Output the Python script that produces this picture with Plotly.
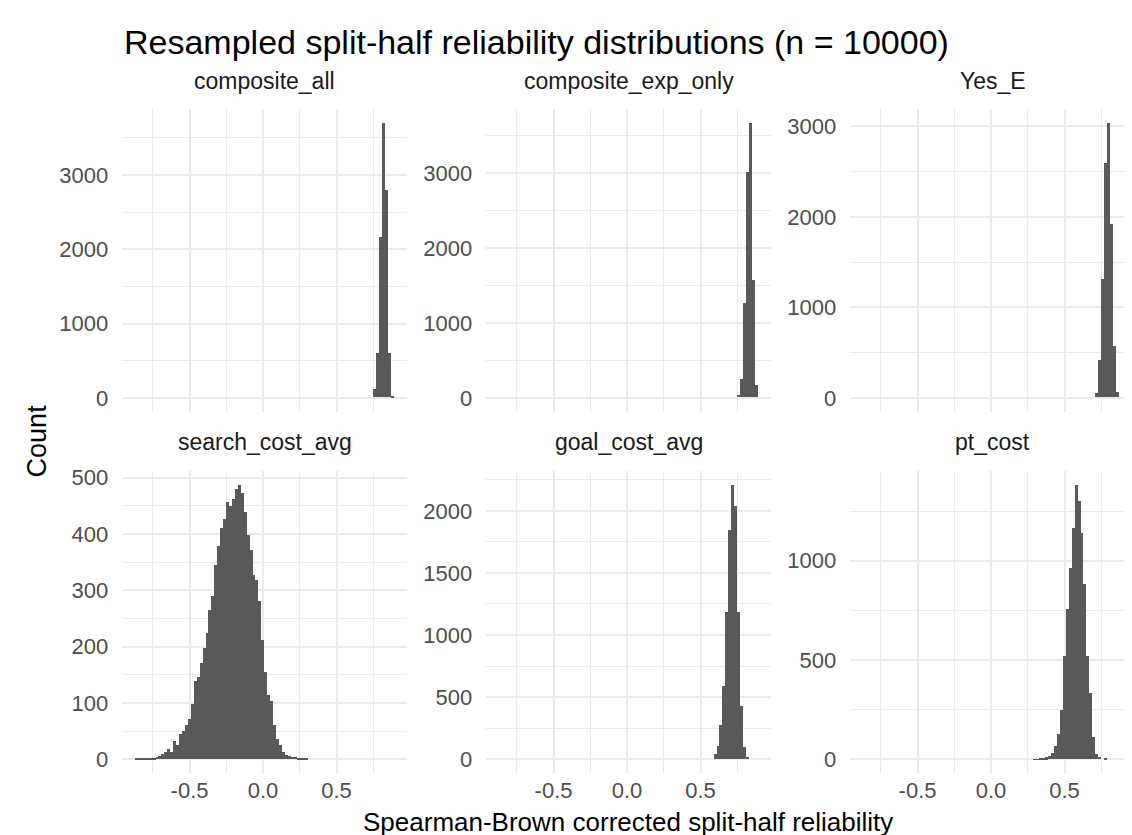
import plotly.graph_objects as go

# ---------------- data ----------------
BIN_WIDTH = 0.02

panel_names = ["composite_all", "composite_exp_only", "Yes_E",
               "search_cost_avg", "goal_cost_avg", "pt_cost"]

# left edge of first bin for each panel
composite_all_start = 0.75
composite_exp_only_start = 0.75
yes_e_start = 0.71
search_cost_start = -0.87
goal_cost_start = 0.59
pt_cost_start = 0.29

composite_all_counts = [117, 600, 2156, 3699, 2797, 600, 14]
composite_exp_only_counts = [30, 250, 1265, 3008, 3666, 1565, 161]
yes_e_counts = [50, 409, 1307, 2587, 3036, 1918, 570, 55]
search_cost_counts = [1, 1, 1, 1, 2, 2, 3, 5, 7, 9,
                      14, 18, 13, 32, 26, 45, 50, 62, 72, 98,
                      140, 146, 172, 198, 225, 265, 290, 345, 380, 412,
                      428, 458, 450, 462, 480, 488, 474, 440, 398, 372,
                      328, 318, 282, 212, 155, 114, 104, 62, 36, 26,
                      13, 8, 7, 5, 4, 3, 2, 1, 1]
goal_cost_counts = [45, 110, 277, 592, 1191, 1850, 2212, 2044, 1191, 432, 99, 19]
pt_cost_counts = [2, 2, 3, 5, 10, 18, 35, 70, 130, 250,
                  520, 756, 965, 1166, 1384, 1300, 1141, 882, 522, 335,
                  112, 28, 12, 0, 3]

panel_starts = [composite_all_start, composite_exp_only_start, yes_e_start,
                search_cost_start, goal_cost_start, pt_cost_start]
panel_counts = [composite_all_counts, composite_exp_only_counts, yes_e_counts,
                search_cost_counts, goal_cost_counts, pt_cost_counts]
y_dticks = [1000, 1000, 1000, 100, 500, 500]

x_tickvals = [-0.5, 0.0, 0.5]
x_ticktext = ["-0.5", "0.0", "0.5"]
x_minorvals = [-0.75, -0.25, 0.25, 0.75]
X_RANGE = [-0.958, 0.978]

TITLE = "Resampled split-half reliability distributions (n = 10000)"
X_TITLE = "Spearman-Brown corrected split-half reliability"
Y_TITLE = "Count"

# ---------------- layout geometry (pixels) ----------------
W, H = 1132, 835
col_px = [(114.2, 398.8), (478.2, 762.8), (842.2, 1126.8)]
row_px = [(97.0, 401.0), (460.5, 764.5)]

FONT = "Liberation Sans, Arial, Helvetica, sans-serif"
BAR = "#595959"
GRID = "#EBEBEB"
TICK_SIZE = 22

fig = go.Figure()
layout = dict(
    width=W, height=H,
    margin=dict(l=0, r=0, t=0, b=0),
    paper_bgcolor="white", plot_bgcolor="white",
    showlegend=False, bargap=0,
    font=dict(family=FONT, color="#4D4D4D"),
)
annotations = []

for i, (name, start, counts) in enumerate(zip(panel_names, panel_starts, panel_counts)):
    r, c = divmod(i, 3)
    ax = i + 1
    xs = [start + (k + 0.5) * BIN_WIDTH for k in range(len(counts))]
    fig.add_trace(go.Bar(
        x=xs, y=counts, width=BIN_WIDTH,
        marker=dict(color=BAR, line=dict(width=0)),
        xaxis=f"x{ax}", yaxis=f"y{ax}", hoverinfo="skip",
    ))
    x0, x1 = col_px[c]
    yt, yb = row_px[r]
    ymax = max(counts)
    layout[f"xaxis{ax}"] = dict(
        domain=[x0 / W, x1 / W], anchor=f"y{ax}",
        range=X_RANGE, fixedrange=True,
        tickmode="array", tickvals=x_tickvals, ticktext=x_ticktext,
        showticklabels=(r == 1), ticks="", ticklabelstandoff=2,
        tickfont=dict(size=TICK_SIZE, color="#4D4D4D", family=FONT),
        showgrid=True, gridcolor=GRID, gridwidth=2,
        minor=dict(tickmode="array", tickvals=x_minorvals, showgrid=True,
                   gridcolor=GRID, gridwidth=1.2, ticks=""),
        zeroline=False, showline=False,
    )
    layout[f"yaxis{ax}"] = dict(
        domain=[1 - yb / H, 1 - yt / H], anchor=f"x{ax}",
        range=[-0.05 * ymax, 1.05 * ymax], fixedrange=True,
        tickmode="linear", tick0=0, dtick=y_dticks[i],
        ticks="", ticklabelstandoff=13,
        tickfont=dict(size=TICK_SIZE, color="#4D4D4D", family=FONT),
        showgrid=True, gridcolor=GRID, gridwidth=2,
        minor=dict(tick0=0, dtick=y_dticks[i] / 2, showgrid=True,
                   gridcolor=GRID, gridwidth=1.2, ticks=""),
        zeroline=False, showline=False,
    )
    annotations.append(dict(
        text=name, x=(x0 + x1) / 2 / W, y=1 - (yt - 29) / H,
        xref="paper", yref="paper", xanchor="center", yanchor="middle",
        showarrow=False, font=dict(size=23, color="#1A1A1A", family=FONT),
    ))

annotations.append(dict(
    text=TITLE, x=114 / W, y=1 - 29 / H, xref="paper", yref="paper",
    xanchor="left", yanchor="middle", showarrow=False,
    font=dict(size=34, color="black", family=FONT),
))
annotations.append(dict(
    text=X_TITLE, x=620 / W, y=1 - 814 / H, xref="paper", yref="paper",
    xanchor="center", yanchor="middle", showarrow=False,
    font=dict(size=26, color="black", family=FONT),
))
annotations.append(dict(
    text=Y_TITLE, x=29 / W, y=1 - 431 / H, xref="paper", yref="paper",
    xanchor="center", yanchor="middle", showarrow=False, textangle=-90,
    font=dict(size=27, color="black", family=FONT),
))
layout["annotations"] = annotations
fig.update_layout(**layout)
fig.write_html("out.html")
